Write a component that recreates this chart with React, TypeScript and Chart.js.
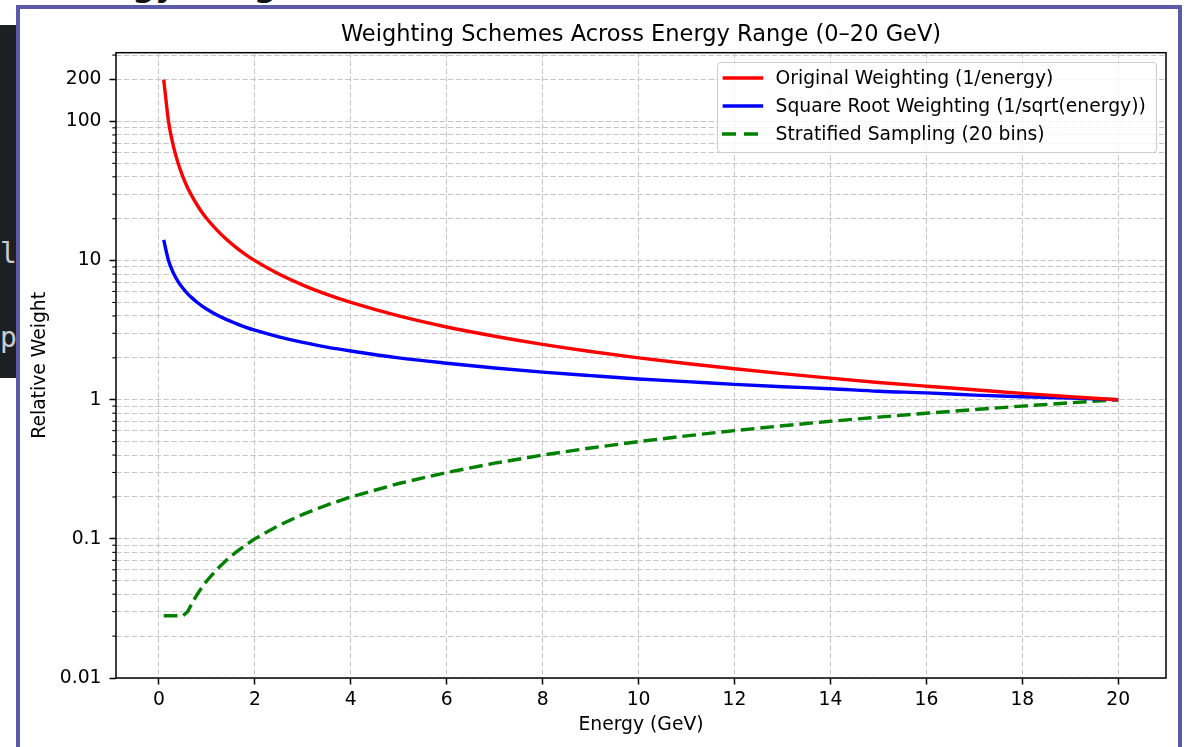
import React, { useEffect, useRef } from "react";
import { Chart, registerables } from "chart.js";

Chart.register(...registerables);

// ---------------- data ----------------
const energy = [0.1, 0.2, 0.3, 0.4, 0.5, 0.6, 0.7, 0.8, 0.9, 1.0, 1.2, 1.4, 1.6, 1.8, 2, 2.5, 3, 3.5, 4, 5, 6, 7, 8, 9, 10, 11, 12, 13, 14, 15, 16, 17, 18, 19, 20];
const originalWeight = [200, 100, 66.7, 50, 40, 33.3, 28.6, 25, 22.2, 20, 16.7, 14.3, 12.5, 11.1, 10, 8, 6.67, 5.71, 5, 4, 3.33, 2.86, 2.5, 2.22, 2, 1.82, 1.67, 1.54, 1.43, 1.33, 1.25, 1.18, 1.11, 1.05, 1];
const sqrtWeight = [14.1, 10, 8.16, 7.07, 6.32, 5.77, 5.35, 5, 4.71, 4.47, 4.08, 3.78, 3.54, 3.33, 3.16, 2.83, 2.58, 2.39, 2.24, 2, 1.83, 1.69, 1.58, 1.49, 1.41, 1.35, 1.29, 1.24, 1.2, 1.15, 1.12, 1.08, 1.05, 1.03, 1];
const stratifiedWeight = [0.028, 0.028, 0.028, 0.028, 0.028, 0.03, 0.035, 0.04, 0.045, 0.05, 0.06, 0.07, 0.08, 0.09, 0.1, 0.125, 0.15, 0.175, 0.2, 0.25, 0.3, 0.35, 0.4, 0.45, 0.5, 0.55, 0.6, 0.65, 0.7, 0.75, 0.8, 0.85, 0.9, 0.95, 1.0];

const seriesLabels = [
  "Original Weighting (1/energy)",
  "Square Root Weighting (1/sqrt(energy))",
  "Stratified Sampling (20 bins)",
];

const xTicks = [0, 2, 4, 6, 8, 10, 12, 14, 16, 18, 20];
const xMin = -0.895;
const xMax = 20.995;
const yMin = 0.01;
const yMax = 312;
const yTickValues = [0.01, 0.1, 1, 10, 100, 200];
const yTickLabels = ["0.01", "0.1", "1", "10", "100", "200"];
const yDecades = [0.01, 0.1, 1, 10, 100];
const yMinorMultipliers = [1, 2, 3, 4, 5, 6, 7, 8, 9];

const titleText = "Weighting Schemes Across Energy Range (0–20 GeV)";
const xTitle = "Energy (GeV)";
const yTitle = "Relative Weight";

// ---------------- helpers ----------------
const FONT = "'DejaVu Sans', 'Liberation Sans', sans-serif";
const GRID = "#c6c6c6";
const FS = 18.75;
const near = (a: number, b: number) => Math.abs(a - b) / b < 1e-6;
const majorIndex = (v: number) => yTickValues.findIndex((t) => near(v, t));

const yAllTicks: number[] = [];
yDecades.forEach((d) =>
  yMinorMultipliers.forEach((m) => {
    const v = m * d;
    if (v <= yMax * 1.0001 && !yAllTicks.some((t) => near(t, v))) yAllTicks.push(v);
  })
);

const framePlugin = {
  id: "frameBox",
  afterDatasetsDraw(chart: any) {
    const { ctx, chartArea: a, scales } = chart;
    const ys = scales.y;
    ctx.save();
    ctx.strokeStyle = "#000";
    ctx.lineWidth = 1.1;
    yAllTicks.forEach((v) => {
      if (majorIndex(v) >= 0) return;
      const p = ys.getPixelForValue(v);
      ctx.beginPath();
      ctx.moveTo(a.left - 3.7, p);
      ctx.lineTo(a.left, p);
      ctx.stroke();
    });
    ctx.lineWidth = 1.5;
    ctx.strokeRect(a.left, a.top, a.right - a.left, a.bottom - a.top);
    ctx.restore();
  },
};

function ChartCanvas() {
  const ref = useRef<HTMLCanvasElement | null>(null);
  useEffect(() => {
    if (!ref.current) return;
    const mk = (ys: number[]) => energy.map((e, i) => ({ x: e, y: ys[i] }));
    const chart = new Chart(ref.current, {
      type: "line",
      data: {
        datasets: [
          { label: seriesLabels[0], data: mk(originalWeight), borderColor: "#ff0000", borderWidth: 3.4, pointRadius: 0, cubicInterpolationMode: "monotone", fill: false },
          { label: seriesLabels[1], data: mk(sqrtWeight), borderColor: "#0000ff", borderWidth: 3.4, pointRadius: 0, cubicInterpolationMode: "monotone", fill: false },
          { label: seriesLabels[2], data: mk(stratifiedWeight), borderColor: "#008000", borderWidth: 3.4, borderDash: [13.7, 5.9], pointRadius: 0, tension: 0, fill: false },
        ],
      },
      options: {
        animation: false,
        responsive: false,
        devicePixelRatio: 1,
        events: [],
        layout: { padding: { left: 20, right: 20, top: 52.7, bottom: 0 } },
        plugins: {
          legend: { display: false },
          tooltip: { enabled: false },
          title: { display: false },
        },
        scales: {
          x: {
            type: "linear",
            min: xMin,
            max: xMax,
            afterBuildTicks: (s: any) => {
              s.ticks = xTicks.map((v) => ({ value: v }));
            },
            afterFit: (s: any) => {
              s.height = 69;
            },
            ticks: {
              color: "#000",
              font: { family: FONT, size: FS },
              padding: 4,
              maxRotation: 0,
              autoSkip: false,
              callback: (v: any) => String(v),
            },
            grid: { color: GRID, lineWidth: 1, drawTicks: true, tickLength: 6.5, tickWidth: 1.5, tickColor: "#000" },
            border: { display: false, dash: [5.5, 2.4] },
            title: {
              display: true,
              text: xTitle,
              color: "#000",
              font: { family: FONT, size: FS },
              padding: { top: 0, bottom: 10.2 },
            },
          },
          y: {
            type: "logarithmic",
            min: yMin,
            max: yMax,
            afterBuildTicks: (s: any) => {
              s.ticks = yAllTicks.map((v) => ({ value: v }));
            },
            afterFit: (s: any) => {
              s.width = 96;
            },
            ticks: {
              color: "#000",
              font: { family: FONT, size: FS },
              padding: 8,
              autoSkip: false,
              callback: (v: any) => {
                const i = majorIndex(Number(v));
                return i >= 0 ? yTickLabels[i] : "";
              },
            },
            grid: {
              color: GRID,
              lineWidth: 1,
              drawTicks: true,
              tickLength: 6.5,
              tickWidth: 1.5,
              tickColor: (c: any) => (c.tick && majorIndex(c.tick.value) >= 0 ? "#000" : "rgba(0,0,0,0)"),
            },
            border: { display: false, dash: [5.5, 2.4] },
            title: {
              display: true,
              text: yTitle,
              color: "#000",
              font: { family: FONT, size: FS },
              padding: { top: 9, bottom: 0 },
            },
          },
        },
      } as any,
      plugins: [framePlugin],
    });
    return () => chart.destroy();
  }, []);
  return <canvas ref={ref} width={1186} height={747} style={{ position: "absolute", left: 0, top: 0, width: 1186, height: 747 }} />;
}

function Legend() {
  const rows = [77.7, 105.9, 134.2];
  const colors = ["#ff0000", "#0000ff", "#008000"];
  return (
    <>
      <div
        style={{
          position: "absolute",
          left: 717,
          top: 62,
          width: 440,
          height: 90.5,
          boxSizing: "border-box",
          border: "1px solid #cccccc",
          borderRadius: 4,
          background: "rgba(255,255,255,0.8)",
        }}
      />
      {seriesLabels.map((lab, i) => (
        <React.Fragment key={lab}>
          <svg style={{ position: "absolute", left: 716, top: rows[i] - 6, width: 52, height: 12 }} width={52} height={12}>
            {i < 2 ? (
              <line x1={8.4} y1={6} x2={45.4} y2={6} stroke={colors[i]} strokeWidth={3.5} strokeLinecap="square" />
            ) : (
              <line x1={6} y1={6} x2={42} y2={6} stroke={colors[i]} strokeWidth={3.5} strokeDasharray="14 8" />
            )}
          </svg>
          <div
            style={{
              position: "absolute",
              left: 775.5,
              top: rows[i] - 14,
              height: 28,
              lineHeight: "28px",
              fontFamily: FONT,
              fontSize: FS,
              color: "#000",
              whiteSpace: "nowrap",
            }}
          >
            {lab}
          </div>
        </React.Fragment>
      ))}
    </>
  );
}

export default function App() {
  return (
    <div style={{ position: "absolute", left: 0, top: 0, width: 1186, height: 747, overflow: "hidden", background: "#fff" }}>
      <div
        style={{
          position: "absolute",
          left: 50,
          top: -31,
          fontFamily: FONT,
          fontWeight: "bold",
          fontSize: 32,
          lineHeight: "32px",
          color: "#111",
          whiteSpace: "nowrap",
        }}
      >
        Energy Weights
      </div>
      <div style={{ position: "absolute", left: 0, top: 25, width: 16, height: 353, background: "#1e1f22", overflow: "hidden" }}>
        <div style={{ position: "absolute", left: 0, top: 213, fontFamily: "'DejaVu Sans Mono', monospace", fontSize: 28, lineHeight: "32px", color: "#c9ccd1" }}>l</div>
        <div style={{ position: "absolute", left: 0, top: 297, fontFamily: "'DejaVu Sans Mono', monospace", fontSize: 28, lineHeight: "32px", color: "#c9ccd1" }}>p</div>
      </div>
      <div
        style={{
          position: "absolute",
          left: 16,
          top: 5,
          width: 1166,
          height: 800,
          boxSizing: "border-box",
          border: "4px solid #5b5aa8",
          borderBottom: "none",
          background: "#fff",
        }}
      />
      <ChartCanvas />
      <div
        style={{
          position: "absolute",
          left: 116,
          width: 1050,
          top: 20.2,
          textAlign: "center",
          fontFamily: FONT,
          fontSize: 22.5,
          lineHeight: "26px",
          color: "#000",
          whiteSpace: "nowrap",
        }}
      >
        {titleText}
      </div>
      <Legend />
    </div>
  );
}
